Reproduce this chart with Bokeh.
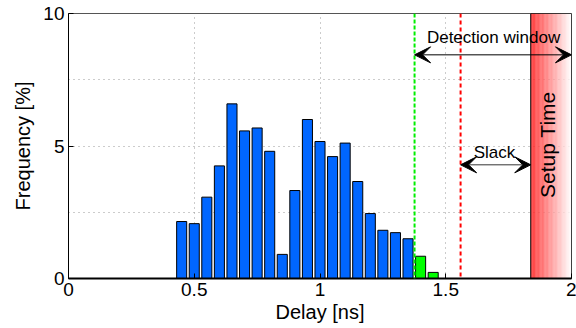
from bokeh.plotting import figure
from bokeh.models import Range1d, FixedTicker, Arrow, VeeHead, Label, Span
from bokeh.embed import file_html
from bokeh.resources import INLINE

# ---- data ----
blue_centers = [0.45, 0.50, 0.55, 0.60, 0.65, 0.70, 0.75, 0.80, 0.85, 0.90,
                0.95, 1.00, 1.05, 1.10, 1.15, 1.20, 1.25, 1.30, 1.35]
blue_values = [2.15, 2.07, 3.07, 4.25, 6.59, 5.57, 5.68, 4.80, 0.91, 3.32,
               6.00, 5.17, 4.60, 5.11, 3.66, 2.45, 1.82, 1.73, 1.50]
green_centers = [1.40, 1.45]
green_values = [0.84, 0.23]
bar_width = 0.04

x_ticks = [0, 0.5, 1, 1.5, 2]
x_tick_labels = ["0", "0.5", "1", "1.5", "2"]
y_ticks = [0, 5, 10]
y_minor = [2.5, 7.5]
y_tick_labels = ["0", "5", "10"]

detection_start = 1.376   # green dashed line
required_time = 1.559     # red dashed line
setup_start = 1.838
setup_end = 2.0
detect_arrow_y = 8.44
slack_arrow_y = 4.29

FONT = "Liberation Sans"

p = figure(width=576, height=328, output_backend="svg", toolbar_location=None,
           x_range=Range1d(0, 2), y_range=Range1d(0, 10),
           min_border_left=68, min_border_right=5, min_border_top=13, min_border_bottom=50)

p.background_fill_color = "white"
p.border_fill_color = "white"
p.outline_line_color = "#555555"
p.outline_line_width = 1

# axes
p.xaxis.ticker = FixedTicker(ticks=x_ticks)
p.xaxis.major_label_overrides = {t: l for t, l in zip(x_ticks, x_tick_labels)}
p.yaxis.ticker = FixedTicker(ticks=y_ticks, minor_ticks=y_minor)
p.yaxis.major_label_overrides = {t: l for t, l in zip(y_ticks, y_tick_labels)}
p.xaxis.axis_label = "Delay [ns]"
p.yaxis.axis_label = "Frequency [%]"
for ax in (p.xaxis, p.yaxis):
    ax.major_label_text_font = FONT
    ax.major_label_text_font_size = "19px"
    ax.major_label_text_color = "black"
    ax.axis_label_text_font = FONT
    ax.axis_label_text_font_size = "20px"
    ax.axis_label_text_font_style = "normal"
    ax.axis_label_text_color = "black"
    ax.major_tick_in = 5
    ax.major_tick_out = 0
    ax.major_tick_line_color = "black"
    ax.minor_tick_in = 0
    ax.minor_tick_out = 0
    ax.axis_line_color = "black"
p.xaxis.axis_line_width = 2
p.xaxis.major_label_standoff = 4
p.xaxis.axis_label_standoff = 2
p.yaxis.major_label_standoff = 4
p.yaxis.axis_label_standoff = 6

# grid
p.xgrid.grid_line_color = "#999999"
p.xgrid.grid_line_dash = "1 4"
p.ygrid.grid_line_color = "#999999"
p.ygrid.grid_line_dash = "1 4"
p.ygrid.minor_grid_line_color = "#999999"
p.ygrid.minor_grid_line_dash = "1 4"

# bars
p.vbar(x=blue_centers, top=blue_values, width=bar_width, bottom=0,
       fill_color="#0066ff", line_color="black", line_width=1)
p.vbar(x=green_centers, top=green_values, width=bar_width, bottom=0,
       fill_color="#00ff00", line_color="black", line_width=1)

# dashed lines
p.add_layout(Span(location=detection_start, dimension="height",
                  line_color="#00ee00", line_width=2, line_dash="4 2"))
p.add_layout(Span(location=required_time, dimension="height",
                  line_color="#ff0000", line_width=2, line_dash="4 3"))

# setup time gradient region
n_strips = 50
lefts, rights, colors = [], [], []
for i in range(n_strips):
    f = i / (n_strips - 1)
    l = setup_start + (setup_end - setup_start) * i / n_strips
    r = setup_start + (setup_end - setup_start) * (i + 1) / n_strips
    g = int(25 + (255 - 25) * f)
    lefts.append(l)
    rights.append(r)
    colors.append("#%02x%02x%02x" % (255, g, g))
p.quad(left=lefts, right=rights, bottom=0, top=10, fill_color=colors, line_color=None)
p.quad(left=[setup_start], right=[setup_end], bottom=[0], top=[10],
       fill_color=None, line_color="black", line_width=1)

p.add_layout(Label(x=(setup_start + setup_end) / 2 - 0.015, y=5.05, text="Setup Time",
                   angle=90, angle_units="deg", text_align="center",
                   text_baseline="middle", text_font=FONT, text_font_size="21px",
                   text_color="black"))

# arrows
p.add_layout(Arrow(x_start=detection_start, x_end=setup_end, y_start=detect_arrow_y,
                   y_end=detect_arrow_y, line_color="black", line_width=1,
                   start=VeeHead(size=16, fill_color="black", line_color="black"),
                   end=VeeHead(size=16, fill_color="black", line_color="black")))
p.add_layout(Arrow(x_start=required_time, x_end=setup_start, y_start=slack_arrow_y,
                   y_end=slack_arrow_y, line_color="#333333", line_width=1,
                   start=VeeHead(size=16, fill_color="black", line_color="black"),
                   end=VeeHead(size=16, fill_color="black", line_color="black")))

p.add_layout(Label(x=1.69, y=9.09, text="Detection window", text_align="center",
                   text_baseline="middle", text_font=FONT, text_font_size="17px",
                   text_color="black"))
p.add_layout(Label(x=1.694, y=4.77, text="Slack", text_align="center",
                   text_baseline="middle", text_font=FONT, text_font_size="17px",
                   text_color="black"))

open("out.html", "w").write(file_html(p, INLINE))
